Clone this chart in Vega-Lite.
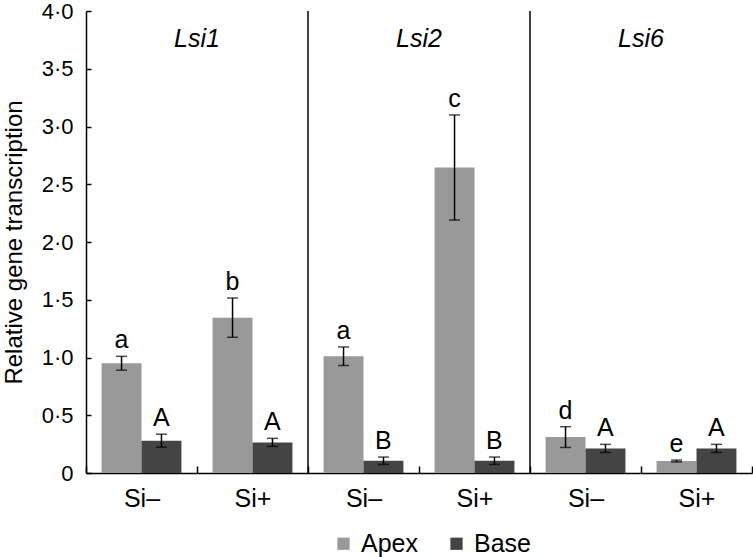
{
  "$schema": "https://vega.github.io/schema/vega-lite/v6.json",
  "width": 666,
  "height": 462,
  "autosize": {"type": "none"},
  "padding": {"left": 86, "top": 11, "right": 1, "bottom": 84},
  "config": {"view": {"stroke": null}, "font": "Liberation Sans"},
  "datasets": {
    "bars": [
      {"group": "Lsi1 Si–", "part": "Apex", "value": 0.95, "err": 0.06, "letter": "a"},
      {"group": "Lsi1 Si–", "part": "Base", "value": 0.28, "err": 0.056, "letter": "A"},
      {"group": "Lsi1 Si+", "part": "Apex", "value": 1.345, "err": 0.17, "letter": "b"},
      {"group": "Lsi1 Si+", "part": "Base", "value": 0.265, "err": 0.035, "letter": "A"},
      {"group": "Lsi2 Si–", "part": "Apex", "value": 1.01, "err": 0.08, "letter": "a"},
      {"group": "Lsi2 Si–", "part": "Base", "value": 0.106, "err": 0.032, "letter": "B"},
      {"group": "Lsi2 Si+", "part": "Apex", "value": 2.645, "err": 0.455, "letter": "c"},
      {"group": "Lsi2 Si+", "part": "Base", "value": 0.106, "err": 0.032, "letter": "B"},
      {"group": "Lsi6 Si–", "part": "Apex", "value": 0.311, "err": 0.09, "letter": "d"},
      {"group": "Lsi6 Si–", "part": "Base", "value": 0.213, "err": 0.035, "letter": "A"},
      {"group": "Lsi6 Si+", "part": "Apex", "value": 0.104, "err": 0.008, "letter": "e"},
      {"group": "Lsi6 Si+", "part": "Base", "value": 0.213, "err": 0.035, "letter": "A"}
    ],
    "seps": [{"group": "Lsi2 Si–"}, {"group": "Lsi6 Si–"}],
    "genes": [
      {"group": "Lsi1 Si+", "gene": "Lsi1", "y": 3.76},
      {"group": "Lsi2 Si+", "gene": "Lsi2", "y": 3.76},
      {"group": "Lsi6 Si+", "gene": "Lsi6", "y": 3.76}
    ]
  },
  "layer": [
    {
      "data": {"name": "bars"},
      "mark": {"type": "bar"},
      "encoding": {
        "x": {
          "field": "group", "type": "nominal",
          "scale": {"domain": ["Lsi1 Si–", "Lsi1 Si+", "Lsi2 Si–", "Lsi2 Si+", "Lsi6 Si–", "Lsi6 Si+"], "paddingInner": 0, "paddingOuter": 0},
          "axis": {
            "title": null, "labelAngle": 0, "labelExpr": "split(datum.label, ' ')[1]",
            "labelFontSize": 25, "labelColor": "black", "labelPadding": 20,
            "tickBand": "extent", "tickSize": -7, "tickColor": "black", "tickWidth": 1.5,
            "domainColor": "black", "domainWidth": 1.5
          }
        },
        "xOffset": {"field": "part", "type": "nominal", "scale": {"domain": ["Apex", "Base"], "paddingInner": 0, "paddingOuter": 0.39}},
        "y": {
          "field": "value", "type": "quantitative",
          "scale": {"domain": [0, 4], "nice": false},
          "axis": {
            "title": "Relative gene transcription", "titleFontSize": 24, "titleFontWeight": "normal", "titleColor": "black", "titlePadding": 15,
            "values": [0, 0.5, 1, 1.5, 2, 2.5, 3, 3.5, 4],
            "labelExpr": "datum.value == 0 ? '0' : replace(format(datum.value, '.1f'), '.', '·')",
            "labelFontSize": 22, "labelColor": "black", "labelPadding": 18,
            "grid": false, "tickSize": -5, "tickColor": "black", "tickWidth": 1.5,
            "domainColor": "black", "domainWidth": 1.5
          }
        },
        "fill": {
          "field": "part", "type": "nominal",
          "scale": {"domain": ["Apex", "Base"], "range": ["#999999", "#444444"]},
          "legend": {
            "title": null, "orient": "none", "direction": "horizontal", "legendX": 245, "legendY": 520,
            "symbolType": "square", "symbolSize": 150, "symbolStrokeWidth": 0, "labelFontSize": 25, "labelColor": "black",
            "labelOffset": 5, "columnPadding": 26
          }
        }
      }
    },
    {
      "data": {"name": "bars"},
      "mark": {"type": "rule", "color": "black", "strokeWidth": 1.5},
      "encoding": {
        "x": {"field": "group", "type": "nominal"},
        "xOffset": {"field": "part", "type": "nominal"},
        "y": {"field": "lo", "type": "quantitative"},
        "y2": {"field": "hi"}
      },
      "transform": [
        {"calculate": "datum.value - datum.err", "as": "lo"},
        {"calculate": "datum.value + datum.err", "as": "hi"}
      ]
    },
    {
      "data": {"name": "bars"},
      "transform": [{"calculate": "datum.value + datum.err", "as": "hi"}],
      "mark": {"type": "tick", "color": "black", "thickness": 1.5, "size": 11},
      "encoding": {
        "x": {"field": "group", "type": "nominal"},
        "xOffset": {"field": "part", "type": "nominal"},
        "y": {"field": "hi", "type": "quantitative"}
      }
    },
    {
      "data": {"name": "bars"},
      "transform": [{"calculate": "datum.value - datum.err", "as": "lo"}],
      "mark": {"type": "tick", "color": "black", "thickness": 1.5, "size": 11},
      "encoding": {
        "x": {"field": "group", "type": "nominal"},
        "xOffset": {"field": "part", "type": "nominal"},
        "y": {"field": "lo", "type": "quantitative"}
      }
    },
    {
      "data": {"name": "bars"},
      "transform": [{"calculate": "datum.value + datum.err", "as": "hi"}],
      "mark": {"type": "text", "baseline": "alphabetic", "dy": -8, "fontSize": 25, "color": "black"},
      "encoding": {
        "x": {"field": "group", "type": "nominal"},
        "xOffset": {"field": "part", "type": "nominal"},
        "y": {"field": "hi", "type": "quantitative"},
        "text": {"field": "letter"}
      }
    },
    {
      "data": {"name": "seps"},
      "mark": {"type": "rule", "color": "black", "strokeWidth": 1.5},
      "encoding": {
        "x": {"field": "group", "type": "nominal", "bandPosition": 0}
      }
    },
    {
      "data": {"name": "genes"},
      "mark": {"type": "text", "fontStyle": "italic", "fontSize": 25, "color": "black", "baseline": "middle"},
      "encoding": {
        "x": {"field": "group", "type": "nominal", "bandPosition": 0},
        "y": {"field": "y", "type": "quantitative"},
        "text": {"field": "gene"}
      }
    }
  ]
}
